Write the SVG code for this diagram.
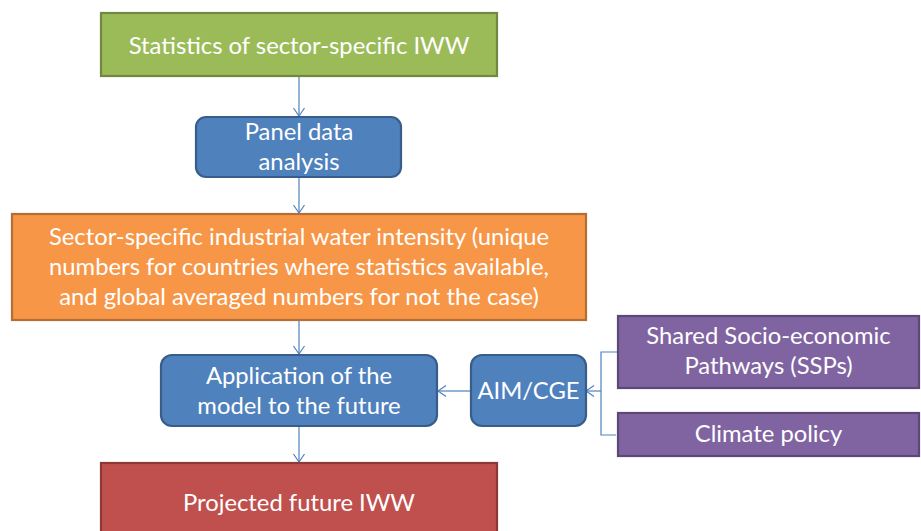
<svg xmlns="http://www.w3.org/2000/svg" width="921" height="531" viewBox="0 0 921 531">
<defs>
<style>
.t{font-family:Lato,"Liberation Sans",sans-serif;font-size:23.8px;fill:#fff;text-anchor:middle}
.c{fill:none;stroke:#4F81BD;stroke-width:1.2}
.g{fill:#9BBB59;stroke:#71893F;stroke-width:2.2}
.b{fill:#4F81BD;stroke:#385D8A;stroke-width:2.2}
.o{fill:#F79646;stroke:#B66D31;stroke-width:2.2}
.p{fill:#8064A2;stroke:#5C4776;stroke-width:2.2}
.r{fill:#C0504D;stroke:#8C3836;stroke-width:2.2}
</style>
<marker id="ah" markerUnits="userSpaceOnUse" markerWidth="14" markerHeight="14" refX="9" refY="6" orient="auto">
<path d="M1,0.5 L9,6 L1,11.5" fill="none" stroke="#4F81BD" stroke-width="1.2"/>
</marker>
</defs>
<rect width="921" height="531" fill="#fff"/>
<g id="connectors">
<line class="c" x1="299" y1="77" x2="299" y2="116" marker-end="url(#ah)"/>
<line class="c" x1="299" y1="178" x2="299" y2="213" marker-end="url(#ah)"/>
<line class="c" x1="299" y1="321" x2="299" y2="354" marker-end="url(#ah)"/>
<line class="c" x1="299" y1="427" x2="299" y2="462" marker-end="url(#ah)"/>
<line class="c" x1="470" y1="391" x2="438" y2="391" marker-end="url(#ah)"/>
<path class="c" d="M617,352 H601 V435 H616"/>
<line class="c" x1="601" y1="391" x2="586" y2="391" marker-end="url(#ah)"/>
</g>
<g id="stats">
<rect class="g" x="101" y="13" width="396" height="63"/>
<text class="t" x="299" y="54">Statistics of sector-specific IWW</text>
</g>
<g id="panel">
<rect class="b" x="196" y="117" width="205" height="60" rx="10"/>
<text class="t" x="299" y="140">Panel data</text>
<text class="t" x="299" y="170">analysis</text>
</g>
<g id="intensity">
<rect class="o" x="12" y="214" width="574" height="106"/>
<text class="t" x="299" y="245">Sector-specific industrial water intensity (unique</text>
<text class="t" x="299" y="275">numbers for countries where statistics available,</text>
<text class="t" x="299" y="305">and global averaged numbers for not the case)</text>
</g>
<g id="application">
<rect class="b" x="161" y="355" width="276" height="71" rx="11"/>
<text class="t" x="299" y="384">Application of the</text>
<text class="t" x="299" y="414">model to the future</text>
</g>
<g id="aimcge">
<rect class="b" x="471" y="355" width="115" height="71" rx="11"/>
<text class="t" x="528.5" y="399">AIM/CGE</text>
</g>
<g id="ssp">
<rect class="p" x="618" y="316" width="301" height="72"/>
<text class="t" x="768.5" y="344">Shared Socio-economic</text>
<text class="t" x="768.5" y="374">Pathways (SSPs)</text>
</g>
<g id="climate">
<rect class="p" x="618" y="413" width="301" height="43"/>
<text class="t" x="768.5" y="442">Climate policy</text>
</g>
<g id="projected">
<rect class="r" x="101" y="463" width="396" height="72"/>
<text class="t" x="299" y="511">Projected future IWW</text>
</g>
</svg>
